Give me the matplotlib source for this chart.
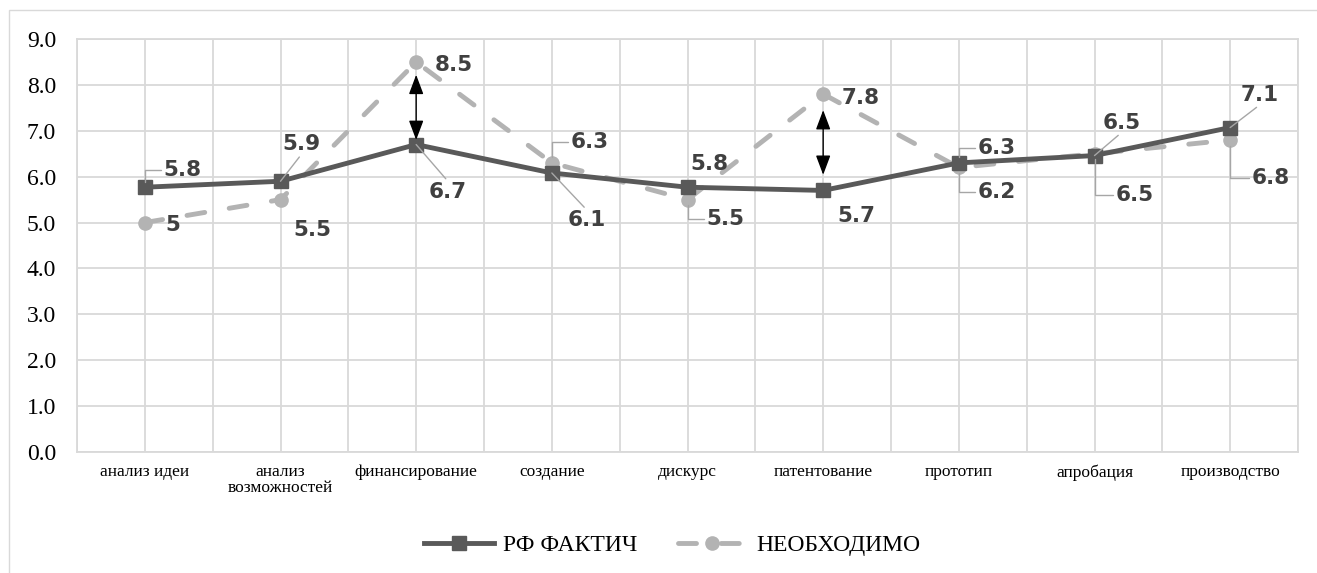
import matplotlib.pyplot as plt
import matplotlib.patches as mpatches
from matplotlib import font_manager

# данные
etapy = ['анализ идеи', 'анализ\nвозможностей', 'финансирование', 'создание', 'дискурс',
         'патентование', 'прототип', 'апробация', 'производство']
rf_faktich = [5.77, 5.9, 6.7, 6.08, 5.77, 5.7, 6.3, 6.46, 7.07]
neobhodimo = [5, 5.5, 8.5, 6.3, 5.5, 7.8, 6.2, 6.5, 6.8]
y_ticks = [0, 1, 2, 3, 4, 5, 6, 7, 8, 9]

# стрелки разрыва (индекс этапа, низ, верх)
strelki_x = [2, 5]
strelki_niz = [6.8, 6.04]
strelki_verh = [8.22, 7.45]

# подписи: смещение в пикселях (dx, dy вверх), тип выноски
pos_fakt = [(38, 19, 'angle'), (21, 39, 'up'), (32, -45, 'down'), (35, -45, 'down'),
            (22, 25, None), (33, -24, None), (38, 17, 'angle'), (27, 35, 'up'), (30, 35, 'up')]
pos_neob = [(28, 0, None), (32, -28, None), (38, -1, None), (38, 23, 'angle'), (38, -17, 'angle'),
            (38, -2, None), (38, -23, 'angle'), (40, -39, 'angle'), (41, -36, 'angle')]

serif_fp = font_manager.FontProperties(fname=font_manager.findfont('Liberation Serif'))

c_fakt = '#595959'
c_neob = '#b3b3b3'
c_grid = '#d9d9d9'

fig = plt.figure(figsize=(13.17, 5.73), dpi=100)
ax = fig.add_axes([77 / 1317, 1 - 452 / 573, (1298 - 77) / 1317, (452 - 39) / 573])

x = list(range(len(etapy)))
ax.plot(x, rf_faktich, color=c_fakt, lw=3.5, marker='s', markersize=10,
        label='РФ ФАКТИЧ', zorder=4)
ax.plot(x, neobhodimo, color=c_neob, lw=3.5, marker='o', markersize=9.5,
        dashes=(3.7, 5.1), dash_capstyle='round', label='НЕОБХОДИМО', zorder=3)


def podpis(i, v, pos):
    dx, dy, vid = pos
    txt = f"{round(v, 1):g}"
    props = None
    if vid == 'angle':
        props = dict(arrowstyle='-', color='#a6a6a6', lw=1, relpos=(0, 0.5),
                     connectionstyle='angle,angleA=0,angleB=90,rad=0', shrinkA=0, shrinkB=4)
    elif vid == 'up':
        props = dict(arrowstyle='-', color='#a6a6a6', lw=1, relpos=(0.5, 0), shrinkA=0, shrinkB=0)
    elif vid == 'down':
        props = dict(arrowstyle='-', color='#a6a6a6', lw=1, relpos=(0.5, 1), shrinkA=0, shrinkB=0)
    ax.annotate(txt, xy=(i, v), xytext=(dx, dy), textcoords='offset pixels',
                ha='center', va='center_baseline', fontsize=15.5, fontweight='bold',
                fontfamily='DejaVu Sans', color='#404040', arrowprops=props, zorder=5)


for i, v in enumerate(rf_faktich):
    podpis(i, v, pos_fakt[i])
for i, v in enumerate(neobhodimo):
    podpis(i, v, pos_neob[i])

for sx, n, vv in zip(strelki_x, strelki_niz, strelki_verh):
    ax.annotate('', xy=(sx, n), xytext=(sx, vv),
                arrowprops=dict(arrowstyle='<|-|>,head_length=1.2,head_width=0.45',
                                mutation_scale=10, color='black', lw=1, shrinkA=0, shrinkB=0),
                zorder=6)

ax.set_xlim(-0.5, len(etapy) - 0.5)
ax.set_ylim(0, 9)
ax.set_yticks(y_ticks)
ax.set_yticklabels([f"{t:.1f}" for t in y_ticks], fontproperties=serif_fp, fontsize=17)
ax.set_xticks(x)
ax.set_xticklabels(etapy, fontproperties=serif_fp, fontsize=12.5, linespacing=1.0, va='top')
ax.set_xticks([k - 0.5 for k in range(len(etapy) + 1)], minor=True)
ax.tick_params(axis='both', which='both', length=0)
ax.tick_params(axis='y', pad=15)
ax.tick_params(axis='x', pad=9)
ax.grid(True, which='both', color=c_grid, lw=1.3)
ax.set_axisbelow(True)
for s in ax.spines.values():
    s.set_color(c_grid)
    s.set_linewidth(1.3)

leg_fp = serif_fp.copy()
leg_fp.set_size(17)
leg = ax.legend(loc='center', bbox_to_anchor=(672.5 / 1317, 1 - 545 / 573),
                bbox_transform=fig.transFigure, ncol=2, frameon=False, prop=leg_fp,
                handlelength=2.95, handletextpad=0.4, columnspacing=1.7)

# рамка области диаграммы
fig.patches.append(mpatches.Rectangle((9 / 1317, -0.05), 1.1, 1 - 10 / 573 + 0.05,
                                      transform=fig.transFigure, fill=False,
                                      edgecolor=c_grid, lw=1))

plt.savefig('out.png', dpi=100)
plt.close()
